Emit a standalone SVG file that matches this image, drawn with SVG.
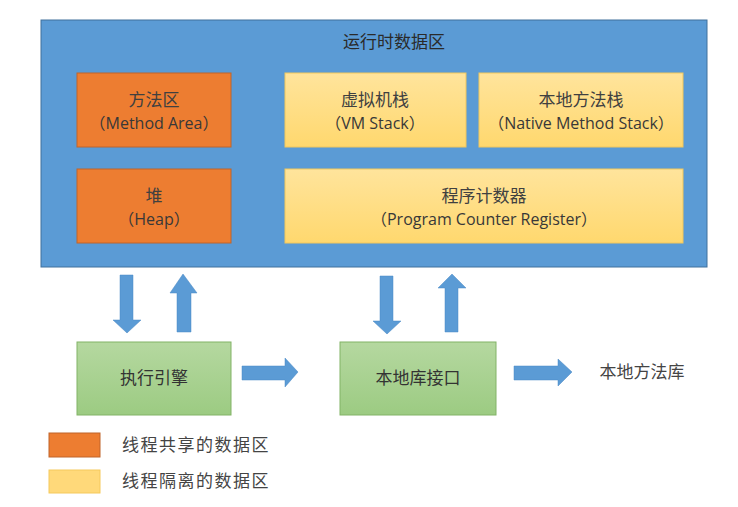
<svg xmlns="http://www.w3.org/2000/svg" width="738" height="507" viewBox="0 0 738 507">
<defs>
<linearGradient id="yel" x1="0" y1="0" x2="0" y2="1"><stop offset="0" stop-color="#FFE49C"/><stop offset="1" stop-color="#FFD86E"/></linearGradient>
<linearGradient id="grn" x1="0" y1="0" x2="0" y2="1"><stop offset="0" stop-color="#B5D8A0"/><stop offset="1" stop-color="#9CCB82"/></linearGradient>
</defs>
<style>
.cn{font-family:"Noto Sans CJK SC","Noto Sans",sans-serif;fill:#404040;font-size:17px;text-anchor:middle}
.en{font-family:"Open Sans","Noto Sans CJK SC",sans-serif;fill:#383838;font-size:16px;text-anchor:middle}
.org{fill:#ED7D31;stroke:#C0642A;stroke-width:1}
.yel{fill:url(#yel);stroke:#F2C75C;stroke-width:1}
.grn{fill:url(#grn);stroke:#82B366;stroke-width:1}
.arr{fill:#5B9BD5;stroke:#4A89C4;stroke-width:0.5}
</style>
<rect width="738" height="507" fill="#FFFFFF"/>
<g id="runtime">
<rect x="41" y="20" width="666" height="247" fill="#5B9BD5" stroke="#41719C" stroke-width="1"/>
<text class="cn" x="394" y="48" style="fill:#2a2a2a;font-size:17px">运行时数据区</text>
</g>
<g id="method-area">
<rect class="org" x="77" y="73" width="154" height="74"/>
<text class="cn" x="154" y="106">方法区</text>
<text class="en" x="154" y="129">（Method Area）</text>
</g>
<g id="heap">
<rect class="org" x="77" y="169" width="154" height="74"/>
<text class="cn" x="154" y="202">堆</text>
<text class="en" x="154" y="225">（Heap）</text>
</g>
<g id="vm-stack">
<rect class="yel" x="285" y="73" width="181" height="74"/>
<text class="cn" x="375" y="106">虚拟机栈</text>
<text class="en" x="375" y="129">（VM Stack）</text>
</g>
<g id="native-stack">
<rect class="yel" x="479" y="73" width="204" height="74"/>
<text class="cn" x="581" y="106">本地方法栈</text>
<text class="en" x="581" y="129">（Native Method Stack）</text>
</g>
<g id="pc-register">
<rect class="yel" x="285" y="169" width="398" height="74"/>
<text class="cn" x="484" y="202">程序计数器</text>
<text class="en" x="484" y="225">（Program Counter Register）</text>
</g>
<g id="exec-engine">
<rect class="grn" x="77" y="342" width="154" height="73"/>
<text class="cn" x="154" y="384" style="fill:#333">执行引擎</text>
</g>
<g id="native-interface">
<rect class="grn" x="340" y="342" width="156" height="73"/>
<text class="cn" x="418" y="384" style="fill:#333">本地库接口</text>
</g>
<g id="native-lib">
<text class="cn" x="642" y="378" style="fill:#444">本地方法库</text>
</g>
<g id="connectors">
<polygon class="arr" points="120,275 133,275 133,320 141,320 127,333 113,320 120,320"/>
<polygon class="arr" points="177,332 191,332 191,293 197,293 183,274 170,293 177,293"/>
<polygon class="arr" points="380,276 393,276 393,321 401,321 387,334 373,321 380,321"/>
<polygon class="arr" points="445,332 458,332 458,288 466,288 452,274 438,288 445,288"/>
<polygon class="arr" points="242,366 285,366 285,358 298,372 285,387 285,380 242,380"/>
<polygon class="arr" points="514,366 558,366 558,359 572,372 558,386 558,380 514,380"/>
</g>
<g id="legend">
<rect class="org" x="49" y="433" width="51" height="24"/>
<text class="cn" x="122" y="451" style="text-anchor:start;font-size:17px;letter-spacing:1.5px;fill:#444">线程共享的数据区</text>
<rect x="49" y="470" width="51" height="23" fill="#FFD97A" stroke="#F5C95C" stroke-width="1"/>
<text class="cn" x="122" y="487" style="text-anchor:start;font-size:17px;letter-spacing:1.5px;fill:#444">线程隔离的数据区</text>
</g>
</svg>
